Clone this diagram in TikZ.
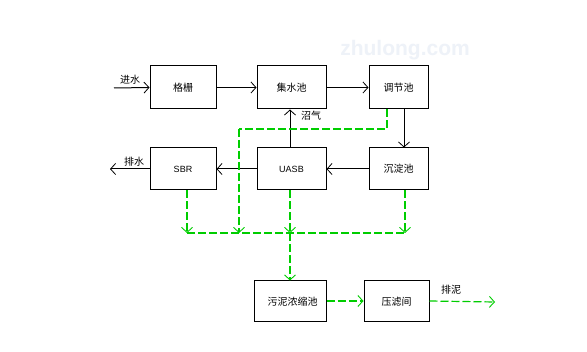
\documentclass[tikz,border=0pt]{standalone}
\usepackage{fontspec}
\setmainfont{Liberation Sans}
\newfontfamily\cjk{Noto Sans CJK SC}
\usetikzlibrary{arrows.meta}
\definecolor{sgreen}{RGB}{0,205,0}
\definecolor{wm}{RGB}{238,242,248}
\begin{document}
\begin{tikzpicture}[x=1pt,y=-1pt,
  box/.style={draw, line width=1pt, inner sep=0pt, font=\cjk\fontsize{10}{12}\selectfont},
  lbl/.style={inner sep=0pt, font=\cjk\fontsize{10}{12}\selectfont},
  flow/.style={-{Straight Barb[length=5pt,width=11pt,line width=0.8pt]}, line width=1pt},
  sludge/.style={draw=sgreen, line width=1.2pt, dash pattern=on 8pt off 3pt},
  sarrow/.style={sludge, -{Straight Barb[length=5pt,width=11pt,line width=0.9pt]}}]
\fill[white] (0,0) rectangle (587,352);
\useasboundingbox (0,0) rectangle (587,352);
\node[text=wm, font=\bfseries\fontsize{21}{24}\selectfont] (wmk) at (405,50) {zhulong.com};
% boxes
\node[box, minimum width=66pt, minimum height=43pt] (geshan) at (183,87.5) {格栅};
\node[box, minimum width=69pt, minimum height=43pt] (jishui) at (291.5,87.5) {集水池};
\node[box, minimum width=59pt, minimum height=43pt] (tiaojie) at (398.5,87.5) {调节池};
\node[box, minimum width=66pt, minimum height=42pt, font=\fontsize{9}{11}\selectfont] (sbr) at (183,169) {SBR};
\node[box, minimum width=69pt, minimum height=42pt, font=\fontsize{9}{11}\selectfont] (uasb) at (291.5,169) {UASB};
\node[box, minimum width=59pt, minimum height=42pt] (chendian) at (398.5,169) {沉淀池};
\node[box, minimum width=72pt, minimum height=41pt] (nongsuo) at (290,301.5) {\hspace*{5pt}污泥浓缩池};
\node[box, minimum width=65pt, minimum height=41pt] (yalv) at (396.5,301.5) {压滤间};
% labels
\node[lbl] (jinshui) at (130,80) {进水};
\node[lbl] (paishui) at (134,162) {排水};
\node[lbl] (zhaoqi) at (311,116) {沼气};
\node[lbl] (paini) at (451,290) {排泥};
% coordinates
\coordinate (in) at (114,88);
\coordinate (out) at (110,169);
\coordinate (sout) at (495,302);
\coordinate (bend) at (239,129);
\coordinate (busL) at (187,233);
\coordinate (busG) at (239,233);
\coordinate (busM) at (290,233);
\coordinate (busR) at (405,233);
% black flow
\draw[flow] (in) -- (geshan.west);
\draw[flow] (geshan.east) -- (jishui.west);
\draw[flow] (jishui.east) -- (tiaojie.west);
\draw[flow] ([xshift=5.5pt]tiaojie.south) -- ([xshift=5.5pt]chendian.north);
\draw[flow] (chendian.west) -- (uasb.east);
\draw[flow] (uasb.west) -- (sbr.east);
\draw[flow] (sbr.west) -- (out);
\draw[flow] ([xshift=-1.5pt]uasb.north) -- ([xshift=-1.5pt]jishui.south);
% sludge lines
\draw[sludge] ([xshift=-11.5pt]tiaojie.south) |- (bend);
\draw[sarrow] (bend) -- (busG);
\draw[sarrow] ([xshift=4pt]sbr.south) -- (busL);
\draw[sarrow] ([xshift=-1.5pt]uasb.south) -- (busM);
\draw[sarrow] ([xshift=6.5pt]chendian.south) -- (busR);
\draw[sludge] (busL) -- (busR);
\draw[sarrow] (busM) -- (nongsuo.north);
\draw[sarrow] ([yshift=0.5pt]nongsuo.east) -- ([yshift=0.5pt]yalv.west);
\draw[sarrow] ([yshift=0.5pt]yalv.east) -- (sout);
\end{tikzpicture}
\end{document}
